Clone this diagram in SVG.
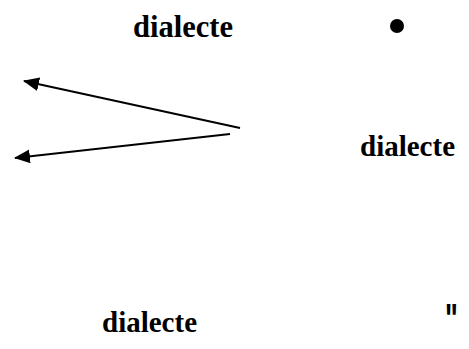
<svg xmlns="http://www.w3.org/2000/svg" width="469" height="349" viewBox="0 0 469 349">
<style>
.lbl{font-family:"Liberation Serif","Times New Roman",serif;font-weight:bold;font-size:29px;fill:#000}
.conn{stroke:#000;stroke-width:2;fill:none;marker-end:url(#ah)}
</style>
<defs>
<marker id="ah" markerUnits="userSpaceOnUse" markerWidth="16" markerHeight="14" refX="15" refY="7" orient="auto">
<path d="M0,0 L16,7 L0,14 z" fill="#000"/>
</marker>
</defs>
<rect width="469" height="349" fill="#fff"/>
<g id="n1"><text class="lbl" x="133" y="37" style="font-size:30.5px">dialecte</text></g>
<g id="n2"><circle cx="397" cy="26" r="7" fill="#000"/></g>
<g id="n3"><text class="lbl" x="360" y="156">dialecte</text></g>
<g id="n4"><text class="lbl" x="102" y="332">dialecte</text></g>
<g id="n5"><text transform="translate(445,333) scale(0.75,1.2)" x="0" y="0" style="font-family:'Liberation Sans',Arial,sans-serif;font-weight:bold;font-size:36px">"</text></g>
<g id="connectors">
<line class="conn" x1="240" y1="128" x2="24" y2="81"/>
<line class="conn" x1="230" y1="134" x2="15" y2="158"/>
</g>
</svg>
